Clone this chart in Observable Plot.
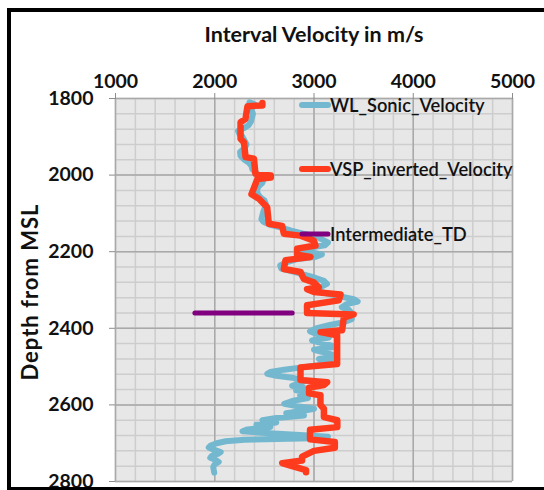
<!DOCTYPE html>
<html><head><meta charset="utf-8">
<script src="https://cdn.jsdelivr.net/npm/d3@7"></script>
<script src="https://cdn.jsdelivr.net/npm/@observablehq/plot@0.6"></script>
<style>
html,body{margin:0;padding:0;background:#fff;overflow:hidden;width:544px;height:490px}
#wrap{position:relative;width:544px;height:490px}
#border{position:absolute;left:7px;top:8px;width:600px;height:475px;border:4px solid #000;pointer-events:none}
svg text{font-family:Lato, "Open Sans", sans-serif}
g[aria-label$="axis tick"]{stroke:#8c8c8c}
g[aria-label$="axis tick label"]{font-weight:bold;fill:#111}
</style></head><body><div id="wrap"><div id="chart"></div><div id="border"></div></div>
<script>
// ---- data ----
const xTicks = [1000, 2000, 3000, 4000, 5000];
const yTicks = [1800, 2000, 2200, 2400, 2600, 2800];

const sonicDepth = [1810,1815,1822,1830,1840,1850,1860,1870,1878,1885,1893,1900,1910,1920,1930,1940,1950,1960,1968,1976,1985,1995,2005,2013,2020,2030,2040,2050,2058,2066,2075,2085,2095,2105,2115,2122,2130,2138,2145,2152,2160,2168,2176,2183,2189,2195,2201,2207,2213,2220,2228,2236,2244,2252,2260,2268,2276,2284,2292,2300,2308,2316,2324,2330,2337,2345,2352,2360,2368,2376,2384,2392,2400,2408,2416,2424,2432,2440,2448,2456,2464,2472,2480,2488,2495,2502,2508,2514,2519,2524,2530,2537,2544,2550,2556,2562,2568,2575,2582,2590,2597,2604,2610,2616,2622,2628,2634,2640,2646,2652,2658,2664,2669,2674,2679,2683,2687,2691,2695,2700,2706,2711,2717,2723,2728,2733,2738,2744,2749,2755,2762,2770,2777];
const sonicVel = [2350,2400,2380,2370,2385,2375,2365,2340,2290,2235,2250,2280,2300,2320,2300,2255,2260,2300,2345,2370,2380,2420,2470,2490,2480,2440,2425,2435,2460,2500,2515,2505,2490,2480,2470,2490,2560,2680,2770,2880,3020,3080,3140,3110,2960,2880,2960,3080,3020,2820,2720,2660,2670,2790,2900,3010,3100,3130,3070,3000,3110,3250,3400,3440,3330,3280,3350,3380,3330,3380,3300,3150,3020,2960,3040,3150,2980,3100,3220,3000,3120,3230,3050,3200,3080,2880,2700,2560,2530,2620,2800,2920,2850,2780,2900,2820,2950,2860,2940,2780,2700,2850,3000,2880,2720,2900,2620,2480,2620,2420,2560,2330,2280,2550,2900,3140,2980,2300,2110,2020,1960,1940,1990,2060,2030,1970,1955,2010,2040,2000,1985,1990,1995];

const vspDepth = [1812,1818,1820,1853,1862,1905,1915,1953,1957,1997,2001,2006,2010,2030,2050,2062,2084,2127,2133,2153,2158,2171,2184,2192,2208,2214,2222,2245,2253,2271,2280,2293,2298,2305,2312,2327,2340,2360,2364,2372,2405,2410,2418,2493,2502,2535,2541,2548,2555,2570,2575,2600,2610,2632,2640,2658,2665,2690,2697,2712,2720,2735,2745,2752,2760,2770,2776];
const vspVel = [2480,2480,2330,2310,2260,2260,2295,2310,2395,2410,2565,2565,2430,2400,2370,2445,2528,2545,2680,2696,2864,2998,3015,2830,2830,2965,2713,2696,2864,2897,2998,3048,2930,3000,3267,3250,2930,2930,3400,3300,3284,3065,3233,3233,2864,2864,3133,3100,2950,2950,3065,3065,3100,3100,3235,3235,2960,2960,3210,3210,3000,2880,2880,2680,2780,2920,2920];

const tdDepth = 2360;
const tdVel = [1800, 2780];

const seriesNames = ["WL_Sonic_Velocity", "VSP_inverted_Velocity", "Intermediate_TD"];
const seriesColors = ["#74b8d0", "#ff3b1e", "#80007f"];

// ---- tables ----
const sonic = sonicDepth.map((d, i) => ({d, v: sonicVel[i]}));
const vsp = vspDepth.map((d, i) => ({d, v: vspVel[i]}));
const td = tdVel.map(v => ({d: tdDepth, v}));

const fmt = d3.format("d");
const chart = Plot.plot({
  width: 544, height: 490,
  marginLeft: 115, marginRight: 32, marginTop: 98, marginBottom: 9,
  style: {background: "#fff", fontFamily: "Lato, sans-serif"},
  x: {domain: [1000, 5000]},
  y: {domain: [1800, 2800], reverse: true},
  marks: [
    Plot.frame({fill: "#e7e7e7", stroke: null}),
    Plot.ruleX(d3.range(1000, 5001, 200), {stroke: "#cdcdcd", strokeWidth: 1.5}),
    Plot.ruleY(d3.range(1800, 2801, 40), {stroke: "#cdcdcd", strokeWidth: 1.5}),
    Plot.ruleX(xTicks, {stroke: "#a9a9a9", strokeWidth: 1.5}),
    Plot.ruleY(yTicks, {stroke: "#a9a9a9", strokeWidth: 1.5}),
    Plot.axisX({anchor: "top", ticks: xTicks, tickFormat: fmt, tickSize: 6, tickPadding: 5, fontSize: 19.5, label: null}),
    Plot.axisY({anchor: "left", ticks: yTicks, tickFormat: fmt, tickSize: 6, tickPadding: 16, fontSize: 19.5, label: null}),
    Plot.line(sonic, {x: "v", y: "d", stroke: seriesColors[0], strokeWidth: 6, strokeLinejoin: "round", strokeLinecap: "round"}),
    Plot.line(vsp, {x: "v", y: "d", stroke: seriesColors[1], strokeWidth: 6.5, strokeLinejoin: "round"}),
    Plot.line(td, {x: "v", y: "d", stroke: seriesColors[2], strokeWidth: 5, strokeLinecap: "round"}),
    Plot.text(["Interval Velocity in m/s"], {frameAnchor: "top", textAnchor: "middle", lineAnchor: "bottom", dy: -57, fontSize: 21.5, fontWeight: "bold", fill: "#111"})
  ]
});
document.getElementById("chart").appendChild(chart);

const svg = d3.select(chart);
// y-axis title
svg.append("text").attr("transform", "translate(30,292) rotate(-90)")
  .attr("text-anchor", "middle").attr("dy", "0.36em")
  .attr("font-size", 22).attr("font-weight", "bold").attr("fill", "#111")
  .style("letter-spacing", "1px").text("Depth from MSL");

// ---- legend (inside plot, right) ----
const legY = [105, 169, 234];
const lg = svg.append("g").attr("aria-label", "legend");
seriesNames.forEach((name, i) => {
  lg.append("line").attr("x1", 302).attr("x2", 328).attr("y1", legY[i]).attr("y2", legY[i])
    .attr("stroke", seriesColors[i]).attr("stroke-width", i === 2 ? 5 : 6).attr("stroke-linecap", "round");
  lg.append("text").attr("x", 330).attr("y", legY[i]).attr("dy", "0.36em")
    .attr("text-anchor", "start").attr("font-weight", 600)
    .attr("font-size", 18.3).attr("fill", "#111").text(name);
});
</script></body></html>
